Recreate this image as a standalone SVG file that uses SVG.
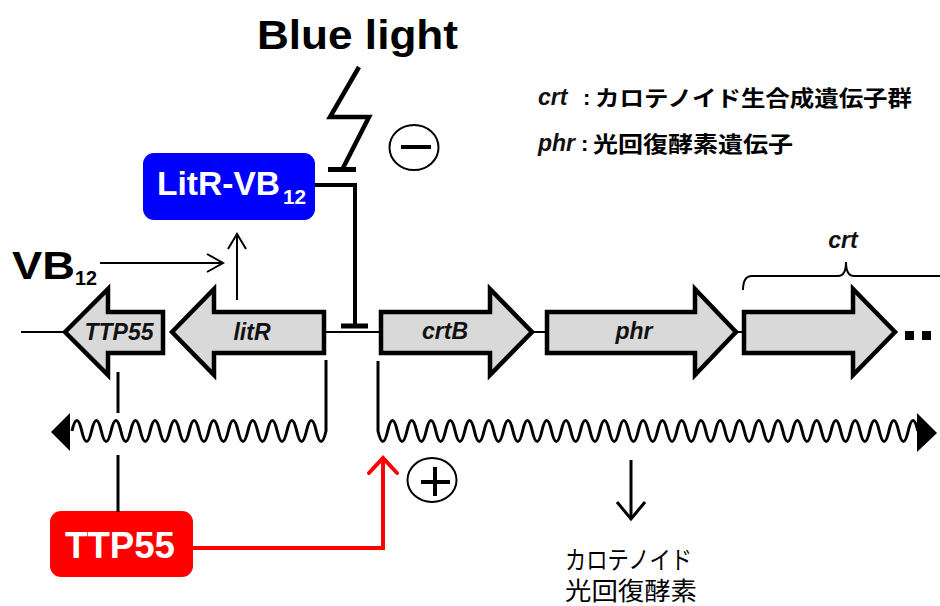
<svg xmlns="http://www.w3.org/2000/svg" width="940" height="606" viewBox="0 0 940 606">
<style>
.gene{fill:#d9d9d9;stroke:#000;stroke-width:4.5;stroke-linejoin:miter}
.gl{font-family:"Liberation Sans",Arial,sans-serif;font-weight:bold;font-style:italic;font-size:23px;fill:#111;text-anchor:middle}
.b{font-family:"Liberation Sans",Arial,sans-serif;font-weight:bold}
.jp{font-family:"Liberation Sans","Noto Sans CJK JP",sans-serif}
.ln{fill:none;stroke:#000;stroke-linecap:butt;stroke-linejoin:miter}
.red{fill:none;stroke:#ff0000;stroke-width:4;stroke-linejoin:miter}
</style>
<rect width="940" height="606" fill="#fff"/>

<g id="blue-light">
<text class="b" x="257" y="49" font-size="40" textLength="201" lengthAdjust="spacingAndGlyphs">Blue light</text>
<polyline class="ln" stroke-width="4.5" points="359,67 330,117 369,117 343,168"/>
</g>

<g id="legend">
<text class="gl" x="538" y="105" style="text-anchor:start" font-size="22">crt</text>
<text class="b" x="583" y="105" font-size="22">:</text>
<text class="jp" x="595" y="106" font-size="22" font-weight="bold" textLength="317" lengthAdjust="spacingAndGlyphs">カロテノイド生合成遺伝子群</text>
<text class="gl" x="538" y="151" style="text-anchor:start" font-size="22">phr</text>
<text class="b" x="581" y="151" font-size="22">:</text>
<text class="jp" x="593" y="152" font-size="22" font-weight="bold" textLength="200" lengthAdjust="spacingAndGlyphs">光回復酵素遺伝子</text>
</g>

<g id="minus">
<ellipse cx="414" cy="147.5" rx="24.5" ry="22.5" fill="none" stroke="#000" stroke-width="2"/>
<line x1="401" y1="147" x2="431" y2="147" stroke="#000" stroke-width="4"/>
</g>

<g id="plus">
<ellipse cx="432" cy="480" rx="24.5" ry="22" fill="none" stroke="#000" stroke-width="2"/>
<line x1="421" y1="482" x2="450" y2="482" stroke="#000" stroke-width="4"/>
<line x1="435" y1="467" x2="435" y2="496" stroke="#000" stroke-width="4"/>
</g>

<g id="litr-vb12">
<rect x="143" y="153" width="172" height="67" rx="11" fill="#0000ff"/>
<text class="b" x="157" y="195" font-size="34" fill="#fff" textLength="123" lengthAdjust="spacingAndGlyphs">LitR-VB</text>
<text class="b" x="283" y="204" font-size="20" fill="#fff" textLength="23" lengthAdjust="spacingAndGlyphs">12</text>
</g>

<g id="vb12">
<text class="b" x="12" y="279" font-size="38" textLength="63" lengthAdjust="spacingAndGlyphs">VB</text>
<text class="b" x="75" y="285" font-size="20" textLength="22" lengthAdjust="spacingAndGlyphs">12</text>
</g>

<g id="ttp55-protein">
<rect x="50" y="511" width="143" height="66" rx="11" fill="#ff0000"/>
<text class="b" x="65" y="558" font-size="36" fill="#fff" textLength="110" lengthAdjust="spacingAndGlyphs">TTP55</text>
</g>

<g id="backbone">
<line x1="21" y1="332" x2="66" y2="332" stroke="#000" stroke-width="2"/>
<line x1="323" y1="332" x2="382" y2="332" stroke="#000" stroke-width="2"/>
<line x1="531" y1="332" x2="548" y2="332" stroke="#000" stroke-width="2"/>
<line x1="735" y1="332" x2="745" y2="332" stroke="#000" stroke-width="2"/>
</g>

<g id="gene-TTP55">
<polygon class="gene" points="65,332 108,289 108,312 163,312 163,353 108,353 108,375"/>
<text class="gl" x="119" y="340">TTP55</text>
</g>
<g id="gene-litR">
<polygon class="gene" points="172,332 214,289 214,312 324,312 324,353 214,353 214,375"/>
<text class="gl" x="252" y="340">litR</text>
</g>
<g id="gene-crtB">
<polygon class="gene" points="381,312 490,312 490,289 532,332 490,375 490,353 381,353"/>
<text class="gl" x="445" y="339">crtB</text>
</g>
<g id="gene-phr">
<polygon class="gene" points="547,312 695,312 695,289 736,332 695,375 695,353 547,353"/>
<text class="gl" x="634" y="339">phr</text>
</g>
<g id="gene-crt">
<polygon class="gene" points="744,312 853,312 853,289 895,332 853,375 853,353 744,353"/>
<rect x="905" y="331" width="9" height="9" fill="#000"/>
<rect x="922" y="331" width="9" height="9" fill="#000"/>
<path class="ln" stroke-width="2" d="M743,290 Q743,276 752,276 H838 Q846,276 846,262 Q846,276 854,276 H940"/>
<text class="gl" x="843" y="248">crt</text>
</g>

<g id="connectors">
<polyline class="ln" stroke-width="4" points="315,185 355,185 355,326"/>
<line x1="341" y1="326" x2="368" y2="326" stroke="#000" stroke-width="5"/>
<line x1="328" y1="169.5" x2="356" y2="169.5" stroke="#000" stroke-width="5"/>
<line x1="100" y1="263" x2="222" y2="263" stroke="#000" stroke-width="2"/>
<polyline class="ln" stroke-width="2" points="207,254 223,263 207,272"/>
<line x1="237" y1="300" x2="237" y2="235" stroke="#000" stroke-width="2"/>
<polyline class="ln" stroke-width="2" points="228,249 237,234 246,249"/>
<path class="ln" stroke-width="3" d="M326,360 V431 q-4.885,21 -9.77,0 t-9.77,0 t-9.77,0 t-9.77,0 t-9.77,0 t-9.77,0 t-9.77,0 t-9.77,0 t-9.77,0 t-9.77,0 t-9.77,0 t-9.77,0 t-9.77,0 t-9.77,0 t-9.77,0 t-9.77,0 t-9.77,0 t-9.77,0 t-9.77,0 t-9.77,0 t-9.77,0 t-9.77,0 t-9.77,0 t-9.77,0 t-9.77,0 t-9.77,0"/>
<polygon points="51,432 70,413 70,451" fill="#000"/>
<path class="ln" stroke-width="3" d="M378,361 V431 q4.82,21 9.64,0 t9.64,0 t9.64,0 t9.64,0 t9.64,0 t9.64,0 t9.64,0 t9.64,0 t9.64,0 t9.64,0 t9.64,0 t9.64,0 t9.64,0 t9.64,0 t9.64,0 t9.64,0 t9.64,0 t9.64,0 t9.64,0 t9.64,0 t9.64,0 t9.64,0 t9.64,0 t9.64,0 t9.64,0 t9.64,0 t9.64,0 t9.64,0 t9.64,0 t9.64,0 t9.64,0 t9.64,0 t9.64,0 t9.64,0 t9.64,0 t9.64,0 t9.64,0 t9.64,0 t9.64,0 t9.64,0 t9.64,0 t9.64,0 t9.64,0 t9.64,0 t9.64,0 t9.64,0 t9.64,0 t9.64,0 t9.64,0 t9.64,0 t9.64,0 t9.64,0 t9.64,0 t9.64,0 t9.64,0 t9.64,0"/>
<polygon points="937,433 917,413 917,452" fill="#000"/>
<line x1="118" y1="372" x2="118" y2="413" stroke="#000" stroke-width="3"/>
<line x1="118" y1="455" x2="118" y2="512" stroke="#000" stroke-width="3"/>
<polyline class="red" points="193,548 383,548 383,459"/>
<polyline class="red" stroke-linecap="round" points="369,473 383,458 397,473"/>
<line x1="631" y1="460" x2="631" y2="518" stroke="#000" stroke-width="3"/>
<polyline class="ln" stroke-width="3" points="617,502 631,519 645,502"/>
</g>

<g id="products">
<text class="jp" x="565" y="569" font-size="25" textLength="127" lengthAdjust="spacingAndGlyphs">カロテノイド</text>
<text class="jp" x="565" y="600" font-size="25" textLength="132" lengthAdjust="spacingAndGlyphs">光回復酵素</text>
</g>
</svg>
